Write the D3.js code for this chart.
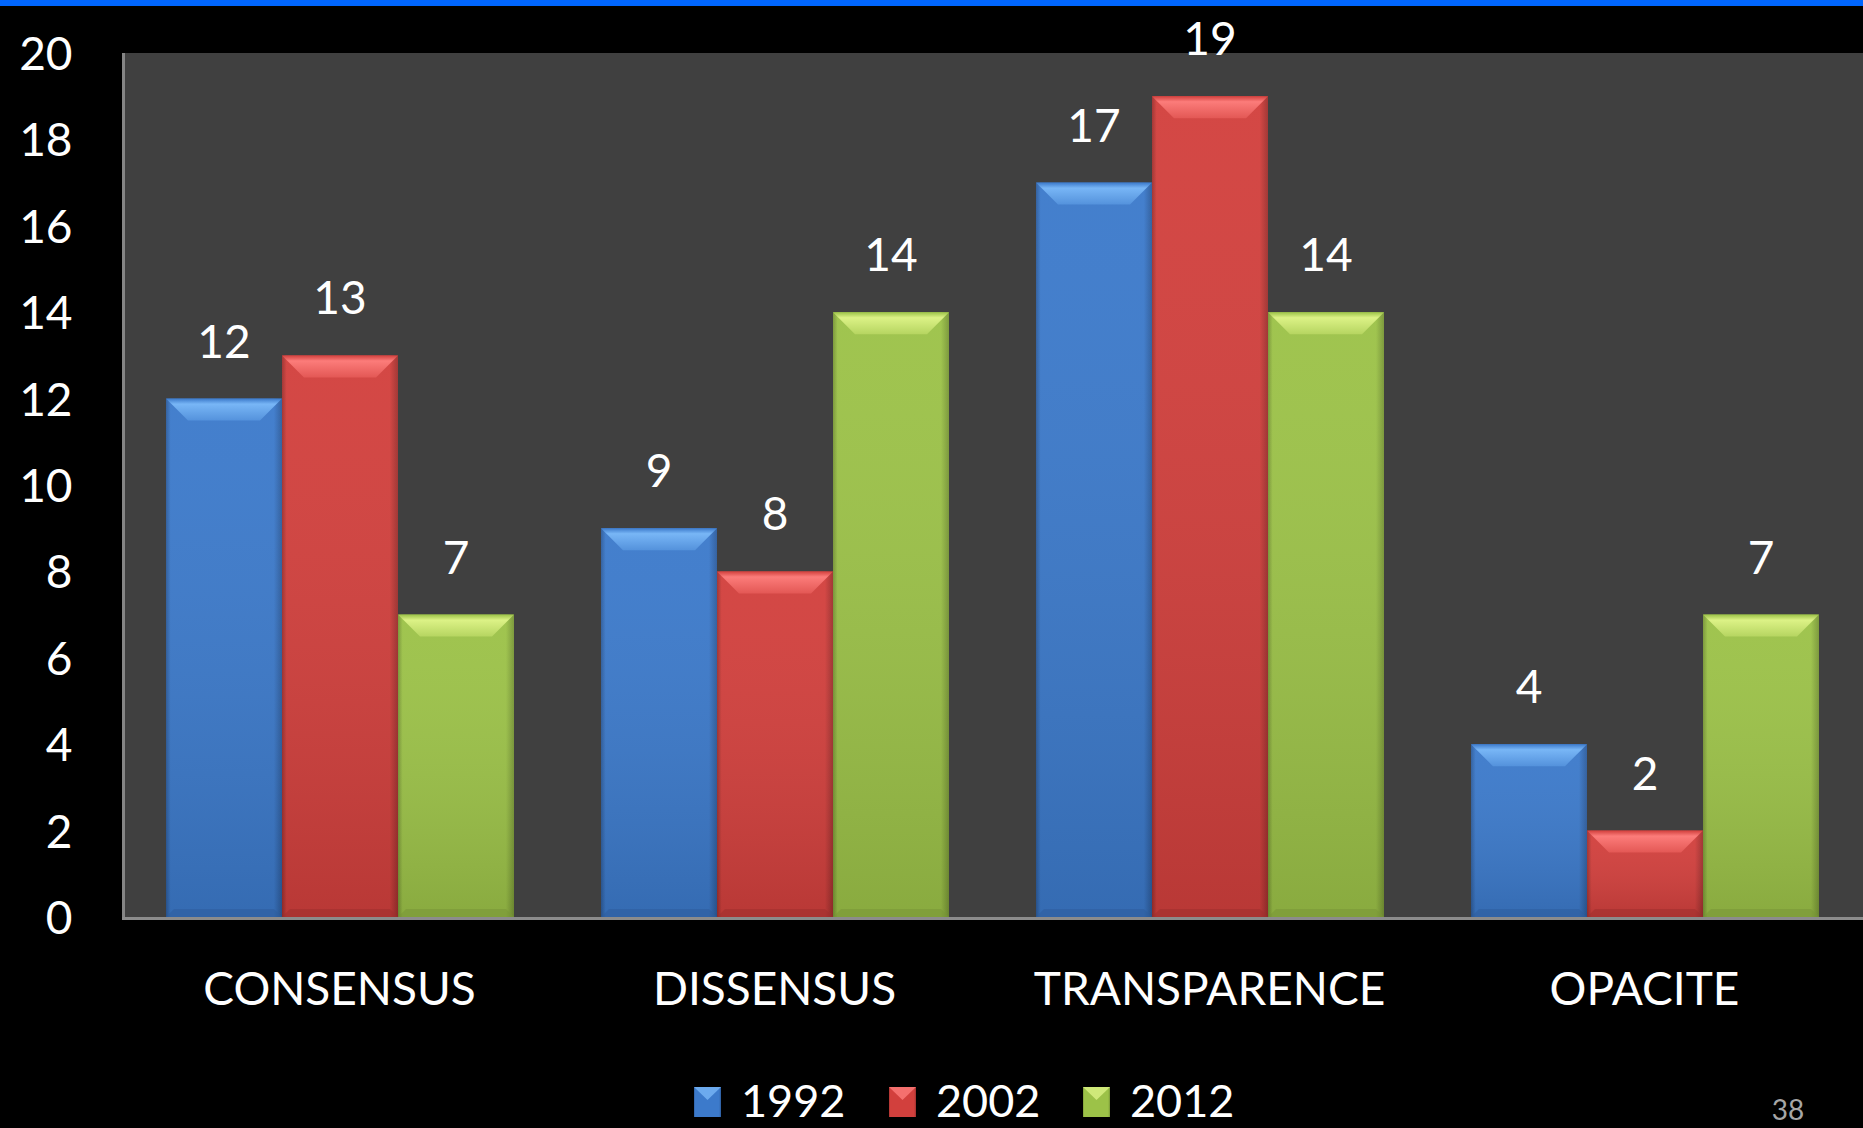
<!DOCTYPE html>
<html>
<head>
<meta charset="utf-8">
<script src="https://cdn.jsdelivr.net/npm/d3@7"></script>
<style>
    html, body { margin: 0; padding: 0; background: #000; }
    svg { display: block; }
</style>
</head>
<body>
<div id="chart"></div>
<script>
const categories = ["CONSENSUS", "DISSENSUS", "TRANSPARENCE", "OPACITE"];
const years = ["1992", "2002", "2012"];
const values1992 = [12, 9, 17, 4];
const values2002 = [13, 8, 19, 2];
const values2012 = [7, 14, 14, 7];
const yTicks = [0, 2, 4, 6, 8, 10, 12, 14, 16, 18, 20];
const pageNumber = "38";

// colours per series: main, light (top bevel), dark (sides / bottom)
const palette = {
    "1992": {main: "#3c7acb", light: "#78b6f6", dark: "#2d5c9c"},
    "2002": {main: "#d2403d", light: "#fc7c7a", dark: "#9e302e"},
    "2012": {main: "#9cc248", light: "#dcf286", dark: "#789636"}
};

const seriesValues = {"1992": values1992, "2002": values2002, "2012": values2012};

const W = 1863, H = 1128;
const margin = {top: 53, right: 1, bottom: 211, left: 122};
const plotBottom = H - margin.bottom;   // 917
const font = "Lato, 'Open Sans', sans-serif";

const svg = d3.select("#chart")
    .append("svg")
    .attr("width", W)
    .attr("height", H);

svg.append("rect").attr("width", W).attr("height", H).attr("fill", "#000");
svg.append("rect").attr("width", W).attr("height", 6).attr("fill", "#0066ff");

const defs = svg.append("defs");
years.forEach(yr => {
    const c = palette[yr];
    const body = defs.append("linearGradient").attr("id", "body" + yr)
        .attr("x1", 0).attr("x2", 1).attr("y1", 0).attr("y2", 0);
    body.append("stop").attr("offset", "0%").attr("stop-color", c.dark);
    body.append("stop").attr("offset", "4%").attr("stop-color", c.main);
    body.append("stop").attr("offset", "93%").attr("stop-color", c.main);
    body.append("stop").attr("offset", "100%").attr("stop-color", c.dark);

    const top = defs.append("linearGradient").attr("id", "top" + yr)
        .attr("x1", 0).attr("x2", 0).attr("y1", 0).attr("y2", 1);
    top.append("stop").attr("offset", "0%").attr("stop-color", c.main);
    top.append("stop").attr("offset", "25%").attr("stop-color", c.light);
    top.append("stop").attr("offset", "100%").attr("stop-color", d3.interpolateRgb(c.light, c.main)(0.6));

    const shade = defs.append("linearGradient").attr("id", "shade" + yr)
        .attr("x1", 0).attr("x2", 0).attr("y1", 0).attr("y2", 1);
    shade.append("stop").attr("offset", "0%").attr("stop-color", "#fff").attr("stop-opacity", 0.04);
    shade.append("stop").attr("offset", "100%").attr("stop-color", "#000").attr("stop-opacity", 0.12);
});

let x0 = d3.scaleBand()
    .domain(categories)
    .range([margin.left, W - margin.right]);

let x1 = d3.scaleBand()
    .domain(years)
    .range([44, x0.bandwidth() - 43]);

let yScale = d3.scaleLinear()
    .domain([0, 20])
    .range([plotBottom, margin.top]);

// plot area
svg.append("rect")
    .attr("x", margin.left)
    .attr("y", margin.top)
    .attr("width", W - margin.left)
    .attr("height", plotBottom - margin.top)
    .attr("fill", "#404040");

// bars
const rows = [];
categories.forEach((cat, i) => {
    years.forEach(yr => rows.push({cat: cat, yr: yr, value: seriesValues[yr][i]}));
});

const bars = svg.append("g")
    .selectAll("g")
    .data(rows)
    .join("g");

bars.each(function(d) {
    const g = d3.select(this);
    const x = x0(d.cat) + x1(d.yr);
    const w = x1.bandwidth();
    const yTop = yScale(d.value);
    const yBot = yScale(0);
    const b = Math.min(22, (yBot - yTop) / 2);
    const bb = 8;
    const c = palette[d.yr];

    g.append("rect")
        .attr("x", x).attr("y", yTop)
        .attr("width", w).attr("height", yBot - yTop)
        .attr("fill", "url(#body" + d.yr + ")");
    g.append("rect")
        .attr("x", x).attr("y", yTop)
        .attr("width", w).attr("height", yBot - yTop)
        .attr("fill", "url(#shade" + d.yr + ")");
    g.append("polygon")
        .attr("points", [[x, yTop], [x + w, yTop], [x + w - b, yTop + b], [x + b, yTop + b]].join(" "))
        .attr("fill", "url(#top" + d.yr + ")");
    g.append("polygon")
        .attr("points", [[x, yBot], [x + w, yBot], [x + w - bb, yBot - bb], [x + bb, yBot - bb]].join(" "))
        .attr("fill", c.dark)
        .attr("opacity", 0.55);
});

// value labels
svg.append("g")
    .selectAll("text")
    .data(rows)
    .join("text")
    .attr("x", d => x0(d.cat) + x1(d.yr) + x1.bandwidth() / 2)
    .attr("y", d => yScale(d.value) - 41)
    .attr("text-anchor", "middle")
    .attr("fill", "#fff")
    .style("font-family", font)
    .style("font-size", "46px")
    .text(d => d.value);

// axes
const yAxis = d3.axisLeft(yScale)
    .tickValues(yTicks)
    .tickSize(0)
    .tickPadding(51);

let y_labels = svg.append("g")
    .attr("transform", `translate(${margin.left + 1.5},0)`)
    .call(yAxis);
y_labels.select(".domain")
    .attr("d", `M0,${margin.top}V${plotBottom + 3}`)
    .attr("stroke", "#858585")
    .attr("stroke-width", 3);
y_labels.selectAll("text")
    .attr("fill", "#fff")
    .attr("dy", "0.36em")
    .style("font-family", font)
    .style("font-size", "46px");

const xAxis = d3.axisBottom(x0).tickSize(0);

let x_labels = svg.append("g")
    .attr("transform", `translate(0,${plotBottom + 1.5})`)
    .call(xAxis);
x_labels.select(".domain")
    .attr("d", `M${margin.left},0H${W}`)
    .attr("stroke", "#8c8c8c")
    .attr("stroke-width", 3);
x_labels.selectAll("text")
    .attr("y", 86)
    .attr("dy", null)
    .attr("fill", "#fff")
    .style("font-family", font)
    .style("font-size", "46px");

// legend
const legendX = [694, 889, 1083];
const legend = svg.append("g")
    .selectAll("g")
    .data(years)
    .join("g")
    .attr("transform", (d, i) => `translate(${legendX[i]},1087)`);

legend.append("rect")
    .attr("width", 27).attr("height", 30)
    .attr("fill", d => "url(#body" + d + ")");
legend.append("polygon")
    .attr("points", "0,0 27,0 13.5,13")
    .attr("fill", d => palette[d].light)
    .attr("opacity", 0.8);
legend.append("text")
    .attr("x", 47)
    .attr("y", 30)
    .attr("fill", "#fff")
    .style("font-family", font)
    .style("font-size", "45px")
    .text(d => d);

// page number
svg.append("text")
    .attr("x", 1788)
    .attr("y", 1120)
    .attr("text-anchor", "middle")
    .attr("fill", "#a6a6a6")
    .style("font-family", font)
    .style("font-size", "28px")
    .text(pageNumber);
</script>
</body>
</html>
